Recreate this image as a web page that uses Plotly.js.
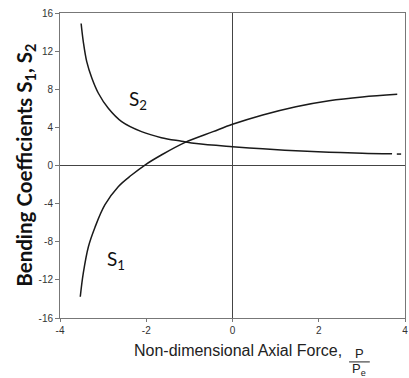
<!DOCTYPE html>
<html>
<head>
<meta charset="utf-8">
<script src="https://cdn.plot.ly/plotly-3.0.1.min.js"></script>
<style>html,body{margin:0;padding:0;background:#fff;}#chart{width:409px;height:378px;}</style>
</head>
<body>
<div id="chart"></div>
<script>
// S1 curve
const s1X = [-3.53, -3.46, -3.34, -3.19, -2.96, -2.65, -2.34, -2.03, -1.65, -1.11, -0.45, 0.0, 0.70, 1.47, 2.24, 3.01, 3.82];
const s1Y = [-13.77, -11.3, -8.5, -6.5, -4.14, -2.22, -1.0, 0.05, 1.1, 2.4, 3.55, 4.32, 5.3, 6.17, 6.80, 7.20, 7.47];
// S2 curve (solid part)
const s2X = [-3.51, -3.46, -3.38, -3.26, -3.11, -2.88, -2.57, -2.11, -1.65, -1.18, -0.84, 0.0, 0.70, 1.47, 2.24, 3.01, 3.70];
const s2Y = [14.9, 13.0, 10.9, 9.15, 7.58, 6.0, 4.6, 3.55, 2.92, 2.55, 2.3, 1.97, 1.75, 1.55, 1.40, 1.28, 1.22];
// S2 curve tail (short dash)
const s2TailX = [3.81, 3.91];
const s2TailY = [1.2, 1.2];

const xTickVals = [-4, -2, 0, 2, 4];
const xTickText = ["-4", "-2", "0", "2", "4"];
const yTickVals = [-16, -12, -8, -4, 0, 4, 8, 12, 16];
const yTickText = ["-16", "-12", "-8", "-4", "0", "4", "8", "12", "16"];

const lineStyle = {color: '#1a1a1a', width: 1.5};
const traces = [
  {x: s1X, y: s1Y, mode: 'lines', line: Object.assign({shape: 'spline', smoothing: 1}, lineStyle), hoverinfo: 'skip'},
  {x: s2X, y: s2Y, mode: 'lines', line: Object.assign({shape: 'spline', smoothing: 1}, lineStyle), hoverinfo: 'skip'},
  {x: s2TailX, y: s2TailY, mode: 'lines', line: lineStyle, hoverinfo: 'skip'}
];

const tickFont = {family: 'Liberation Sans, Arial, sans-serif', size: 10, color: '#333'};
const layout = {
  width: 409, height: 378,
  margin: {l: 60, r: 4, t: 13, b: 60},
  paper_bgcolor: '#fff', plot_bgcolor: '#fff',
  showlegend: false,
  xaxis: {
    range: [-4, 4], tickvals: xTickVals, ticktext: xTickText,
    showgrid: false, zeroline: true, zerolinecolor: '#444', zerolinewidth: 1,
    showline: true, mirror: true, linecolor: '#777', linewidth: 1,
    ticks: 'outside', ticklen: 3, tickcolor: '#777', tickfont: tickFont,
    ticklabeloverflow: 'allow', automargin: false
  },
  yaxis: {
    range: [-16, 16], tickvals: yTickVals, ticktext: yTickText,
    showgrid: false, zeroline: true, zerolinecolor: '#444', zerolinewidth: 1,
    showline: true, mirror: true, linecolor: '#777', linewidth: 1,
    ticks: 'outside', ticklen: 4, tickcolor: '#777', tickfont: tickFont,
    ticklabeloverflow: 'allow', automargin: false
  },
  annotations: [
    {text: 'S<sub>2</sub>', x: -2.2, y: 6.9, xref: 'x', yref: 'y', showarrow: false,
     font: {family: 'Lato, Open Sans, sans-serif', size: 19, color: '#111'}},
    {text: 'S<sub>1</sub>', x: -2.7, y: -9.9, xref: 'x', yref: 'y', showarrow: false,
     font: {family: 'Lato, Open Sans, sans-serif', size: 19, color: '#111'}},
    {text: '<b>Bending Coefficients S<sub>1</sub>, S<sub>2</sub></b>', textangle: -90,
     x: -0.101, y: 0.5, xref: 'paper', yref: 'paper', xanchor: 'center', yanchor: 'middle', showarrow: false,
     font: {family: 'Lato, Open Sans, sans-serif', size: 20.5, color: '#111'}},
    {text: 'Non-dimensional Axial Force,', x: 0.208, y: -0.105, xref: 'paper', yref: 'paper',
     xanchor: 'left', yanchor: 'middle', showarrow: false,
     font: {family: 'Liberation Sans, Arial, sans-serif', size: 16, color: '#222'}},
    {text: 'P', x: 0.868, y: -0.117, xref: 'paper', yref: 'paper', xanchor: 'center', yanchor: 'middle', showarrow: false,
     font: {family: 'Liberation Sans, Arial, sans-serif', size: 13, color: '#222'}},
    {text: 'P<sub>e</sub>', x: 0.868, y: -0.168, xref: 'paper', yref: 'paper', xanchor: 'center', yanchor: 'middle', showarrow: false,
     font: {family: 'Liberation Sans, Arial, sans-serif', size: 13, color: '#222'}}
  ],
  shapes: [
    {type: 'line', xref: 'paper', yref: 'paper', x0: 0.838, x1: 0.898, y0: -0.144, y1: -0.144,
     line: {color: '#222', width: 1}}
  ]
};

Plotly.newPlot('chart', traces, layout, {staticPlot: true, displayModeBar: false});
</script>
</body>
</html>
